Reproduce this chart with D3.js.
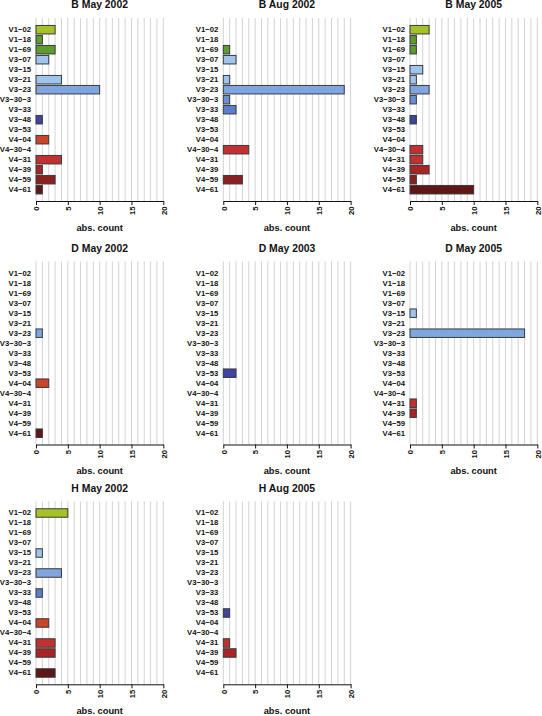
<!DOCTYPE html>
<html>
<head>
<meta charset="utf-8">
<script src="https://cdn.jsdelivr.net/npm/d3@7"></script>
<style>
  html, body { margin: 0; padding: 0; background: #fff; }
  svg { display: block; font-family: "Liberation Sans", Arial, Helvetica, sans-serif; }
</style>
</head>
<body>
<svg id="chart" width="542" height="716"></svg>
<script>
// ---- data ----
const categories = ["V1−02","V1−18","V1−69","V3−07","V3−15","V3−21","V3−23","V3−30−3","V3−33","V3−48","V3−53","V4−04","V4−30−4","V4−31","V4−39","V4−59","V4−61"];
const barColors = ["#a6c22a","#5b9e2e","#5b9e2e","#9fc5ee","#9fc5ee","#9fc5ee","#7fa6e0","#6a90d6","#5b7fcc","#3f449e","#3f449e","#c8442b","#c43031","#c23130","#a82426","#8c1f1f","#5e1616"];
const panelTitles = ["B May 2002","B Aug 2002","B May 2005","D May 2002","D May 2003","D May 2005","H May 2002","H Aug 2005"];
const bMay2002 = [3,1,3,2,0,4,10,0,0,1,0,2,0,4,1,3,1];
const bAug2002 = [0,0,1,2,0,1,19,1,2,0,0,0,4,0,0,3,0];
const bMay2005 = [3,1,1,0,2,1,3,1,0,1,0,0,2,2,3,1,10];
const dMay2002 = [0,0,0,0,0,0,1,0,0,0,0,2,0,0,0,0,1];
const dMay2003 = [0,0,0,0,0,0,0,0,0,0,2,0,0,0,0,0,0];
const dMay2005 = [0,0,0,0,1,0,18,0,0,0,0,0,0,1,1,0,0];
const hMay2002 = [5,0,0,0,1,0,4,0,1,0,0,2,0,3,3,0,3];
const hAug2005 = [0,0,0,0,0,0,0,0,0,0,1,0,0,1,2,0,0];
const xTicks = [0,5,10,15,20];
const xLabel = "abs. count";
const panelValues = [bMay2002,bAug2002,bMay2005,dMay2002,dMay2003,dMay2005,hMay2002,hAug2005];

// ---- layout ----
const colX0 = [36, 223.3, 410];
const rowTop = [18, 261.5, 501.3];
const plotW = 127.3;
const plotH = 183;

const svg = d3.select("#chart");

panelValues.forEach((vals, i) => {
  const col = i % 3, row = Math.floor(i / 3);
  const x0 = colX0[col], T = rowTop[row];
  const g = svg.append("g").attr("transform", `translate(${x0},${T})`);

  const x = d3.scaleLinear().domain([0, 20]).range([0, plotW]);
  const y = d3.scaleBand().domain(categories).range([6.7, 176.7]).paddingInner(0.15).paddingOuter(0.075);

  // grid
  g.append("g").selectAll("line").data(d3.range(0, 21)).join("line")
    .attr("x1", d => x(d)).attr("x2", d => x(d))
    .attr("y1", 0).attr("y2", plotH)
    .attr("stroke", "#d3d3d3").attr("stroke-width", 1);

  // bars
  g.append("g").selectAll("rect").data(categories).join("rect")
    .attr("x", x(0))
    .attr("y", d => y(d))
    .attr("width", (d, j) => x(vals[j]) - x(0))
    .attr("height", y.bandwidth())
    .attr("fill", (d, j) => barColors[j])
    .attr("stroke", "#3a3a3a").attr("stroke-width", 1);

  // category labels
  g.append("g").selectAll("text").data(categories).join("text")
    .attr("x", -5).attr("y", d => y(d) + y.bandwidth() / 2)
    .attr("text-anchor", "end").attr("dominant-baseline", "central")
    .attr("font-size", "7.7px").attr("font-weight", "bold").attr("fill", "#111")
    .text(d => d);

  // x axis
  const axis = g.append("g").attr("transform", `translate(0,${plotH})`)
    .call(d3.axisBottom(x).tickValues(xTicks).tickSize(4).tickSizeOuter(0).tickFormat(d3.format("d")));
  axis.select(".domain").attr("stroke", "#111");
  axis.selectAll(".tick line").attr("stroke", "#111");
  axis.selectAll(".tick text")
    .attr("font-size", "7.7px").attr("font-weight", "bold").attr("fill", "#111")
    .attr("font-family", "Liberation Sans, Arial, sans-serif")
    .attr("transform", "rotate(-90)")
    .attr("x", -5.5).attr("y", 0).attr("dy", "0.35em")
    .attr("text-anchor", "end");

  // x label
  g.append("text").attr("x", plotW / 2).attr("y", plotH + 29.5)
    .attr("text-anchor", "middle").attr("font-size", "9.3px").attr("font-weight", "bold").attr("fill", "#111")
    .text(xLabel);

  // title
  g.append("text").attr("x", plotW / 2).attr("y", -9.8)
    .attr("text-anchor", "middle").attr("font-size", "10.4px").attr("font-weight", "bold").attr("fill", "#111")
    .text(panelTitles[i]);
});
</script>
</body>
</html>
